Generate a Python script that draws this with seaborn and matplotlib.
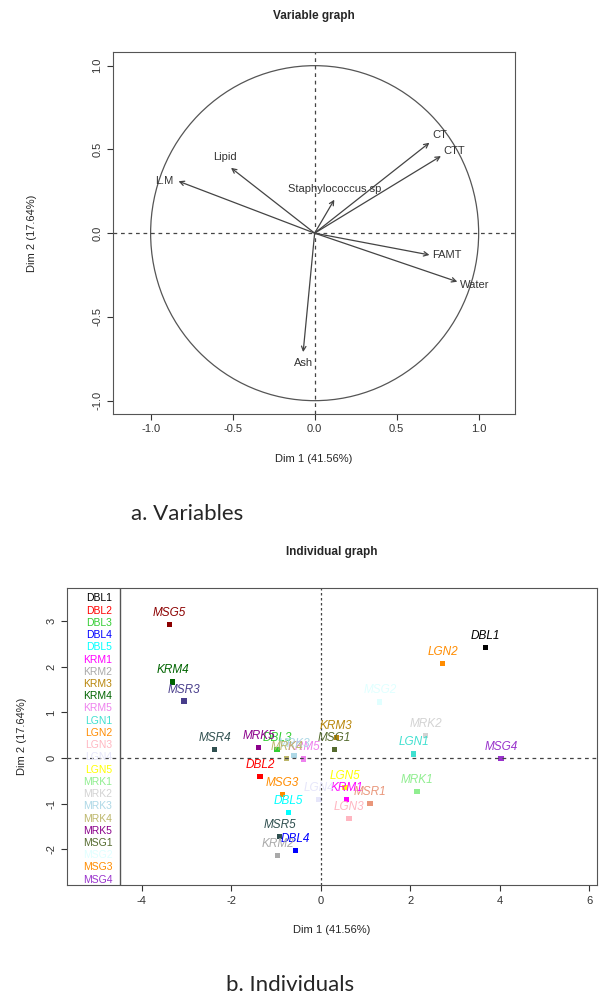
import matplotlib
matplotlib.use('Agg')
import matplotlib.pyplot as plt
from matplotlib.patches import Circle
import numpy as np
import pandas as pd
import seaborn as sns

# Variables (correlation circle)
var_names = ['CT', 'CTT', 'Lipid', 'L.M', 'Staphylococcus sp', 'FAMT', 'Water', 'Ash']
var_dim1 = [0.70, 0.77, -0.51, -0.83, 0.12, 0.70, 0.87, -0.07]
var_dim2 = [0.54, 0.46, 0.39, 0.31, 0.20, -0.13, -0.29, -0.71]

# Individuals
ind_names = ['DBL1', 'DBL2', 'DBL3', 'DBL4', 'DBL5',
             'KRM1', 'KRM2', 'KRM3', 'KRM4', 'KRM5',
             'LGN1', 'LGN2', 'LGN3', 'LGN4', 'LGN5',
             'MRK1', 'MRK2', 'MRK3', 'MRK4', 'MRK5',
             'MSG1', 'MSG2', 'MSG3', 'MSG4', 'MSG5',
             'MSR1', 'MSR3', 'MSR4', 'MSR5']
ind_dim1 = [3.69, -1.36, -0.98, -0.56, -0.72,
            0.58, -0.96, 0.35, -3.31, -0.38,
            2.08, 2.73, 0.63, -0.04, 0.54,
            2.15, 2.35, -0.60, -0.76, -1.39,
            0.31, 1.32, -0.85, 4.03, -3.38,
            1.10, -3.06, -2.37, -0.92]
ind_dim2 = [2.42, -0.40, 0.18, -2.02, -1.19,
            -0.90, -2.13, 0.45, 1.67, -0.02,
            0.09, 2.07, -1.32, -0.90, -0.64,
            -0.73, 0.50, 0.05, 0.00, 0.24,
            0.18, 1.23, -0.79, 0.00, 2.92,
            -0.99, 1.25, 0.18, -1.71]
ind_colors = ['black', 'red', 'limegreen', 'blue', 'cyan',
              'magenta', 'darkgray', 'darkgoldenrod', 'darkgreen', 'violet',
              'turquoise', 'darkorange', 'lightpink', 'lavender', 'yellow',
              'lightgreen', 'lightgray', 'lightblue', 'darkkhaki', 'darkmagenta',
              'darkolivegreen', 'lightcyan', 'darkorange', 'darkorchid', 'darkred',
              'darksalmon', 'darkslateblue', 'darkslategray', 'darkslategray']
legend_names = ind_names[:24]

sns.set_style('white')
plt.rcParams['font.family'] = ['Liberation Sans', 'DejaVu Sans']
plt.rcParams['axes.unicode_minus'] = False

fig = plt.figure(figsize=(6.07, 10.05), dpi=100)

# ---- Variable graph ----
ax1 = fig.add_axes([0.186, 0.588, 0.662, 0.360])
ax1.add_patch(Circle((0, 0), 1.0, fill=False, color='#555555', lw=0.9))
ax1.axhline(0, color='#444444', ls=(0, (3, 3)), lw=0.9)
ax1.axvline(0, color='#444444', ls=(0, (3, 3)), lw=0.9)
offsets = {'CT': (2, 2, 'left', 'bottom'), 'CTT': (2, 0, 'left', 'bottom'),
           'Lipid': (-4, 4, 'center', 'bottom'), 'L.M': (-4, 0, 'right', 'center'),
           'Staphylococcus sp': (0, 4, 'center', 'bottom'),
           'FAMT': (2, 0, 'left', 'center'), 'Water': (2, -2, 'left', 'center'),
           'Ash': (0, -4, 'center', 'top')}
for name, x, y in zip(var_names, var_dim1, var_dim2):
    ax1.annotate('', xy=(x, y), xytext=(0, 0),
                 arrowprops=dict(arrowstyle='->', color='#444444', lw=0.9,
                                 mutation_scale=8, shrinkA=0, shrinkB=0))
    dx, dy, ha, va = offsets[name]
    ax1.annotate(name, xy=(x, y), xytext=(dx, dy), textcoords='offset points',
                 ha=ha, va=va, fontsize=8, color='#333333')
ax1.set_xlim(-1.23, 1.22)
ax1.set_ylim(-1.08, 1.08)
ax1.set_xticks([-1.0, -0.5, 0.0, 0.5, 1.0])
ax1.set_yticks([-1.0, -0.5, 0.0, 0.5, 1.0])
ax1.tick_params(labelsize=8, colors='#333333', length=4, left=True, bottom=True)
for lab in ax1.get_yticklabels():
    lab.set_rotation(90)
    lab.set_va('center')
for s in ax1.spines.values():
    s.set_color('#555555')
ax1.set_title('Variable graph', fontsize=8.5, fontweight='bold', pad=24)
ax1.set_xlabel('Dim 1 (41.56%)', fontsize=8, labelpad=14)
ax1.set_ylabel('Dim 2 (17.64%)', fontsize=8, labelpad=40)

# ---- Individual graph ----
ax2 = fig.add_axes([0.110, 0.119, 0.873, 0.296])
df = pd.DataFrame({'name': ind_names, 'Dim1': ind_dim1, 'Dim2': ind_dim2})
sns.scatterplot(data=df, x='Dim1', y='Dim2', hue='name', palette=ind_colors,
                marker='s', s=14, edgecolor='none', legend=False, ax=ax2)
for name, x, y, c in zip(ind_names, ind_dim1, ind_dim2, ind_colors):
    ax2.annotate(name, xy=(x, y), xytext=(0, 4), textcoords='offset points',
                 ha='center', va='bottom', fontsize=8.5, style='italic', color=c)
ax2.axhline(0, color='#444444', ls=(0, (3, 3)), lw=0.9)
ax2.axvline(0, color='#444444', ls=(0, (2, 2)), lw=0.9)
ax2.set_xlim(-5.68, 6.17)
ax2.set_ylim(-2.79, 3.73)
ax2.set_xticks([-4, -2, 0, 2, 4, 6])
ax2.set_yticks([-2, -1, 0, 1, 2, 3])
ax2.tick_params(labelsize=8, colors='#333333', length=4, left=True, bottom=True)
for lab in ax2.get_yticklabels():
    lab.set_rotation(90)
    lab.set_va('center')
for s in ax2.spines.values():
    s.set_color('#555555')
ax2.axvline(-4.5, color='#555555', lw=1.0)
for i, (name, c) in enumerate(zip(legend_names, ind_colors[:24])):
    ax2.text(-4.66, 3.5 - i * 0.268, name, color=c, fontsize=7.5,
             ha='right', va='center')
ax2.set_title('Individual graph', fontsize=8.5, fontweight='bold', pad=24)
ax2.set_xlabel('Dim 1 (41.56%)', fontsize=8, labelpad=14)
ax2.set_ylabel('Dim 2 (17.64%)', fontsize=8, labelpad=14)

fig.text(0.215, 0.489, 'a. Variables', fontsize=16, family=['Lato', 'DejaVu Sans'],
         va='center', ha='left')
fig.text(0.478, 0.020, 'b. Individuals', fontsize=16, family=['Lato', 'DejaVu Sans'],
         va='center', ha='center')

fig.savefig('out.png', dpi=100)
